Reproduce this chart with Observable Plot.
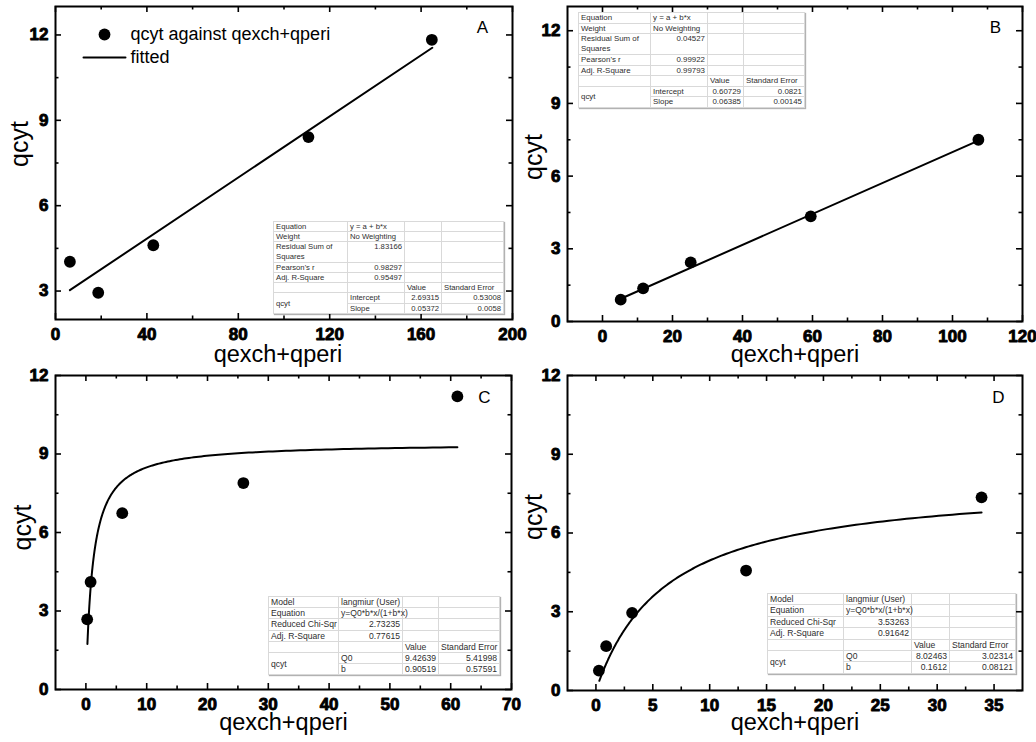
<!DOCTYPE html>
<html>
<head>
<meta charset="utf-8">
<script src="https://cdn.jsdelivr.net/npm/d3@7"></script>
<script src="https://cdn.jsdelivr.net/npm/@observablehq/plot@0.6"></script>
<style>
html,body{margin:0;padding:0;background:#fff;overflow:hidden;}
#wrap{position:relative;width:1036px;height:742px;overflow:hidden;background:#fff;font-family:"Liberation Sans",Arial,sans-serif;}
#wrap svg{position:absolute;}
table.fit{position:absolute;border-collapse:collapse;table-layout:fixed;background:#fff;color:#2e2e2e;font-family:"Liberation Sans",Arial,sans-serif;border:1px solid #9a9a9a;box-shadow:1px 1px 1px rgba(0,0,0,0.3);}
table.fit td{border:1px solid #d9d9d9;padding:0 2px;white-space:nowrap;overflow:visible;vertical-align:middle;box-sizing:content-box;}
</style>
</head>
<body>
<div id="wrap"></div>
<script>
// ---------- data ----------
const xA = [6.3, 18.7, 42.8, 110.7, 164.7];
const yA = [4.03, 2.94, 4.61, 8.41, 11.83];
const xB = [5.2, 11.6, 25.2, 59.5, 107.4];
const yB = [0.9, 1.37, 2.44, 4.34, 7.5];
const xC = [0.21, 0.77, 5.98, 25.9, 61.1];
const yC = [2.68, 4.11, 6.74, 7.89, 11.2];
const xD = [0.26, 0.9, 3.18, 13.2, 33.9];
const yD = [0.76, 1.69, 2.96, 4.57, 7.36];

// fit parameters and fitted ranges (from the tables / curve ends)
const fitLinA = [2.69315, 0.05372], fitRangeA = [6.3, 164.9];
const fitLinB = [0.60729, 0.06385], fitRangeB = [5.2, 107.4];
const fitLangC = [9.42639, 0.90519], fitRangeC = [0.25, 61.1];
const fitLangD = [8.02463, 0.1612], fitRangeD = [0.3, 33.9];

// tick labels
const xTicksA = [0, 40, 80, 120, 160, 200], xMinorA = [20, 60, 100, 140, 180];
const yTicksA = [3, 6, 9, 12], yMinorA = [4.5, 7.5, 10.5];
const xTicksB = [0, 20, 40, 60, 80, 100, 120], xMinorB = [10, 30, 50, 70, 90, 110];
const yTicksB = [0, 3, 6, 9, 12], yMinorB = [1.5, 4.5, 7.5, 10.5];
const xTicksC = [0, 10, 20, 30, 40, 50, 60, 70], xMinorC = [5, 15, 25, 35, 45, 55, 65];
const yTicksC = [0, 3, 6, 9, 12], yMinorC = [1.5, 4.5, 7.5, 10.5];
const xTicksD = [0, 5, 10, 15, 20, 25, 30, 35], xMinorD = [2.5, 7.5, 12.5, 17.5, 22.5, 27.5, 32.5];
const yTicksD = [0, 3, 6, 9, 12], yMinorD = [1.5, 4.5, 7.5, 10.5];

const xLabel = "qexch+qperi", yLabel = "qcyt";
const legendLabels = ["qcyt against qexch+qperi", "fitted"];

// fit tables
const linLabels = ["Equation", "Weight", "Residual Sum of|Squares", "Pearson's r", "Adj. R-Square"];
const linStatsA = ["y = a + b*x", "No Weighting", "1.83166", "0.98297", "0.95497"];
const linStatsB = ["y = a + b*x", "No Weighting", "0.04527", "0.99922", "0.99793"];
const linParams = ["Intercept", "Slope"];
const linValA = ["2.69315", "0.05372"], linErrA = ["0.53008", "0.0058"];
const linValB = ["0.60729", "0.06385"], linErrB = ["0.0821", "0.00145"];
const langLabels = ["Model", "Equation", "Reduced Chi-Sqr", "Adj. R-Square"];
const langStatsC = ["langmiur (User)", "y=Q0*b*x/(1+b*x)", "2.73235", "0.77615"];
const langStatsD = ["langmiur (User)", "y=Q0*b*x/(1+b*x)", "3.53263", "0.91642"];
const langParams = ["Q0", "b"];
const langValC = ["9.42639", "0.90519"], langErrC = ["5.41998", "0.57591"];
const langValD = ["8.02463", "0.1612"], langErrD = ["3.02314", "0.08121"];

// ---------- helpers ----------
const FONT = "'Liberation Sans', Arial, Helvetica, sans-serif";
const M = {left: 70, top: 12, right: 30, bottom: 50};
const wrap = document.getElementById("wrap");

function linFit(p, r) { return r.map(x => ({x, y: p[0] + p[1] * x})); }
function langFit(p, r) {
  const n = 240, out = [];
  for (let i = 0; i <= n; i++) {
    const x = r[0] * Math.pow(r[1] / r[0], i / n);
    out.push({x, y: p[0] * p[1] * x / (1 + p[1] * x)});
  }
  return out;
}

function panel(cfg) {
  const [fx0, fx1, fy0, fy1] = cfg.frame;
  const pw = fx1 - fx0, ph = fy1 - fy0;
  const pts = cfg.xs.map((x, i) => ({x, y: cfg.ys[i]}));
  const sw = 1.6;
  const marks = [];
  for (const [vals, len] of [[cfg.xMajor, 6], [cfg.xMinor, 3.5]]) {
    marks.push(Plot.tickX(vals, {x: d => d, insetTop: ph - len, stroke: "black", strokeWidth: sw}));
    marks.push(Plot.tickX(vals, {x: d => d, insetBottom: ph - len, stroke: "black", strokeWidth: sw}));
  }
  for (const [vals, len] of [[cfg.yMajor, 6], [cfg.yMinor, 3.5]]) {
    marks.push(Plot.tickY(vals, {y: d => d, insetRight: pw - len, stroke: "black", strokeWidth: sw}));
    marks.push(Plot.tickY(vals, {y: d => d, insetLeft: pw - len, stroke: "black", strokeWidth: sw}));
  }
  const bold = {fontSize: 17, fontWeight: "bold", fill: "black", stroke: "black", strokeWidth: 0.9, paintOrder: "normal"};
  marks.push(
    Plot.text(cfg.xMajor, {x: d => d, text: d => String(d), frameAnchor: "bottom", dy: 8, lineAnchor: "top", textAnchor: "middle", ...bold}),
    Plot.text(cfg.yMajor, {y: d => d, text: d => String(d), frameAnchor: "left", dx: -7, lineAnchor: "middle", textAnchor: "end", ...bold}),
    Plot.line(cfg.fit, {x: "x", y: "y", stroke: "black", strokeWidth: 2}),
    Plot.dot(pts, {x: "x", y: "y", r: 5.9, fill: "black", stroke: "none"}),
    Plot.frame({stroke: "black", strokeWidth: 2}),
    Plot.text([xLabel], {text: d => d, frameAnchor: "bottom", dx: cfg.xlab[0], dy: cfg.xlab[1], fontSize: 23.5, lineAnchor: "middle", fill: "black"}),
    Plot.text([yLabel], {text: d => d, frameAnchor: "left", dx: cfg.ylab[0], dy: cfg.ylab[1], fontSize: 25, rotate: -90, lineAnchor: "middle", textAnchor: "middle", fill: "black"}),
    Plot.text([cfg.letter], {text: d => d, frameAnchor: "top-right", dx: cfg.letterPos[0], dy: cfg.letterPos[1], fontSize: 17, lineAnchor: "middle", textAnchor: "middle", fill: "black"})
  );
  if (cfg.legend) {
    marks.push(
      Plot.dot([legendLabels[0]], {frameAnchor: "top-left", dx: 49, dy: 28, r: 5.9, fill: "black"}),
      Plot.text([legendLabels[0]], {text: d => d, frameAnchor: "top-left", dx: 75, dy: 28, fontSize: 18, lineAnchor: "middle", textAnchor: "start", fill: "black"}),
      Plot.vector([legendLabels[1]], {frameAnchor: "top-left", dx: 28, dy: 51, length: 42, rotate: 90, anchor: "start",
        shape: {draw(ctx, l) { ctx.moveTo(0, 0); ctx.lineTo(0, -l); }}, stroke: "black", strokeWidth: 2}),
      Plot.text([legendLabels[1]], {text: d => d, frameAnchor: "top-left", dx: 75, dy: 51, fontSize: 18, lineAnchor: "middle", textAnchor: "start", fill: "black"})
    );
  }
  const svg = Plot.plot({
    width: pw + M.left + M.right,
    height: ph + M.top + M.bottom,
    marginLeft: M.left, marginRight: M.right, marginTop: M.top, marginBottom: M.bottom,
    x: {domain: cfg.xDomain, axis: null},
    y: {domain: cfg.yDomain, axis: null},
    style: {background: "transparent", overflow: "visible", fontFamily: FONT, color: "black"},
    marks
  });
  svg.style.left = (fx0 - M.left) + "px";
  svg.style.top = (fy0 - M.top) + "px";
  wrap.appendChild(svg);
}

const isNum = s => /^[\d.]+$/.test(s);
function table(cfg) {
  const t = document.createElement("table");
  t.className = "fit";
  t.style.left = cfg.left + "px";
  t.style.top = cfg.top + "px";
  t.style.fontSize = cfg.font + "px";
  t.style.width = d3.sum(cfg.widths) + "px";
  const h = cfg.h;
  let html = "<colgroup>" + cfg.widths.map(w => `<col style="width:${w}px">`).join("") + "</colgroup>";
  const td = (txt, align, extra = "") => `<td style="text-align:${align};height:${h}px;line-height:${h}px;${extra}">${txt}</td>`;
  cfg.labels.forEach((lab, i) => {
    const val = cfg.stats[i];
    if (lab.includes("|")) {
      const hh = 2 * h + 1;
      html += `<tr><td style="height:${hh}px;line-height:${hh / 2}px;text-align:left">${lab.split("|").join("<br>")}</td>` +
        `<td style="vertical-align:top;text-align:right;line-height:${hh / 2}px">${val}</td><td></td><td></td></tr>`;
    } else {
      html += "<tr>" + td(lab, "left") + td(val, isNum(val) ? "right" : "left") + td("", "left") + td("", "left") + "</tr>";
    }
  });
  html += "<tr>" + td("", "left") + td("", "left") + td("Value", "left") + td("Standard Error", "left") + "</tr>";
  cfg.params.forEach((p, i) => {
    html += "<tr>" + (i === 0 ? `<td rowspan="2" style="text-align:left;line-height:${h}px">qcyt</td>` : "") +
      td(p, "left") + td(cfg.vals[i], "right") + td(cfg.errs[i], "right") + "</tr>";
  });
  t.innerHTML = html;
  wrap.appendChild(t);
}

// ---------- panels ----------
panel({frame: [55, 512, 6, 319], xDomain: [0, 200], yDomain: [2, 13], xs: xA, ys: yA,
  fit: linFit(fitLinA, fitRangeA), xMajor: xTicksA, xMinor: xMinorA, yMajor: yTicksA, yMinor: yMinorA,
  letter: "A", letterPos: [-30, 21], xlab: [-6, 35], ylab: [-36, -19], legend: true});
panel({frame: [567, 1022, 6, 321], xDomain: [-10, 120], yDomain: [0, 13], xs: xB, ys: yB,
  fit: linFit(fitLinB, fitRangeB), xMajor: xTicksB, xMinor: xMinorB, yMajor: yTicksB, yMinor: yMinorB,
  letter: "B", letterPos: [-27, 21], xlab: [0, 33], ylab: [-34, -7]});
panel({frame: [55, 511, 375, 689], xDomain: [-5, 70], yDomain: [0, 12], xs: xC, ys: yC,
  fit: langFit(fitLangC, fitRangeC), xMajor: xTicksC, xMinor: xMinorC, yMajor: yTicksC, yMinor: yMinorC,
  letter: "C", letterPos: [-27, 22], xlab: [0, 33], ylab: [-33, -5]});
panel({frame: [567, 1022, 375, 690], xDomain: [-2.5, 37.5], yDomain: [0, 12], xs: xD, ys: yD,
  fit: langFit(fitLangD, fitRangeD), xMajor: xTicksD, xMinor: xMinorD, yMajor: yTicksD, yMinor: yMinorD,
  letter: "D", letterPos: [-24, 22], xlab: [0, 31.5], ylab: [-34, -16]});

// ---------- fit tables ----------
table({left: 273, top: 221, widths: [74, 57, 37, 62], font: 7.7, h: 9.2,
  labels: linLabels, stats: linStatsA, params: linParams, vals: linValA, errs: linErrA});
table({left: 578, top: 12, widths: [72, 57, 36, 61], font: 7.9, h: 9.5,
  labels: linLabels, stats: linStatsB, params: linParams, vals: linValB, errs: linErrB});
table({left: 268, top: 596, widths: [70, 64, 36, 61], font: 8.6, h: 10.2,
  labels: langLabels, stats: langStatsC, params: langParams, vals: langValC, errs: langErrC});
table({left: 767, top: 593, widths: [76, 68, 38, 66], font: 8.6, h: 10.4,
  labels: langLabels, stats: langStatsD, params: langParams, vals: langValD, errs: langErrD});
</script>
</body>
</html>
